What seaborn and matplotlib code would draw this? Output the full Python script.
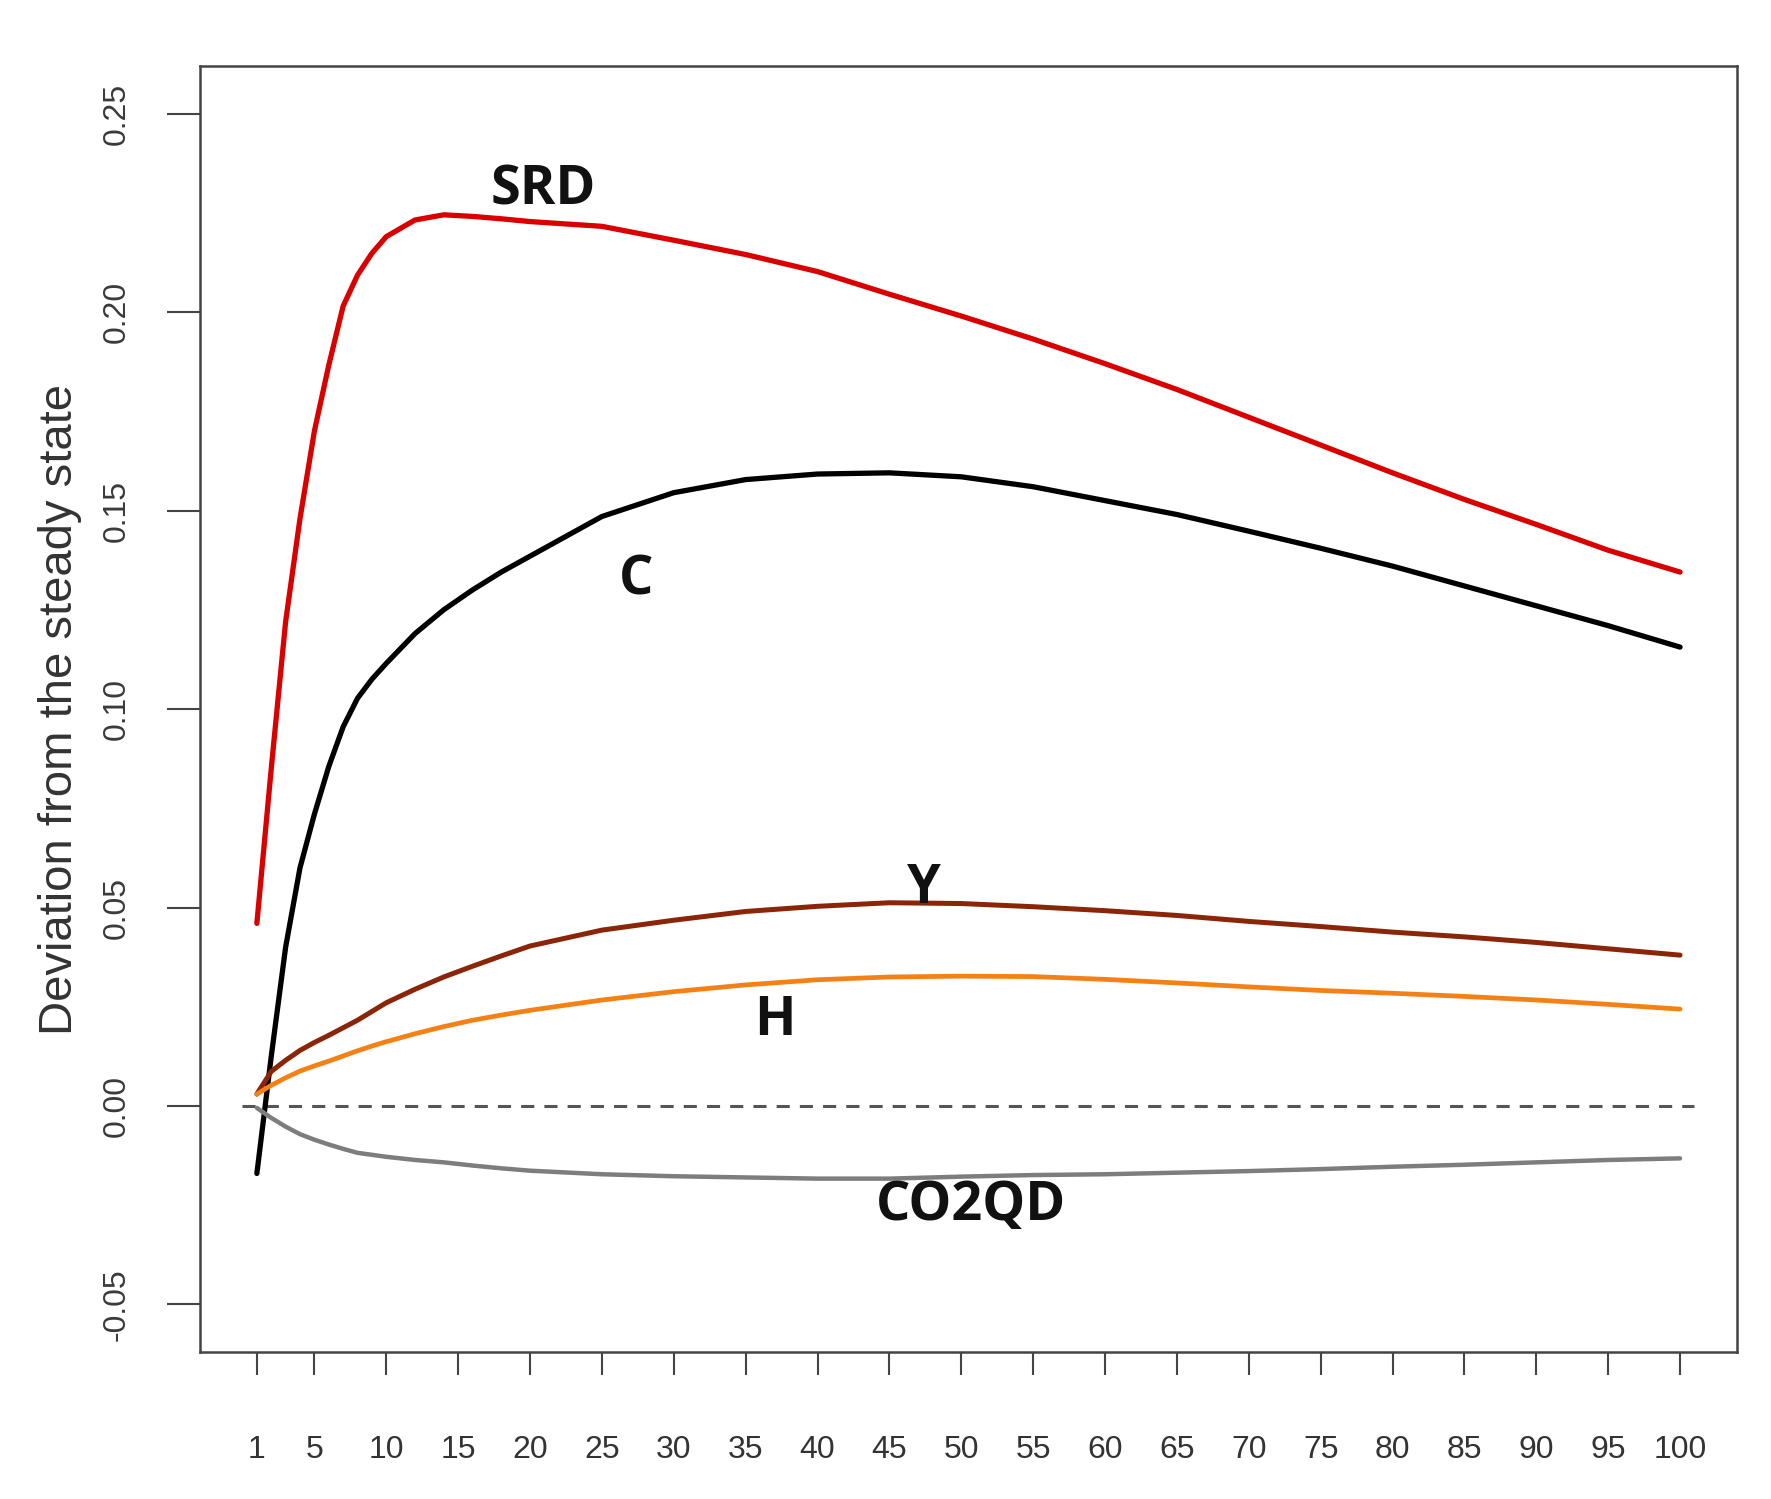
import pandas as pd
import seaborn as sns
import matplotlib.pyplot as plt
from matplotlib import font_manager
import numpy as np

# periods and impulse responses
periods = [1, 2, 3, 4, 5, 6, 7, 8, 9, 10, 12, 14, 16, 18, 20, 25, 30, 35, 40,
           45, 50, 55, 60, 65, 70, 75, 80, 85, 90, 95, 100]
srd = [0.046, 0.085, 0.122, 0.148, 0.170, 0.1866, 0.2015, 0.2093, 0.2148, 0.219,
       0.2232, 0.2245, 0.2241, 0.2235, 0.2228, 0.2216, 0.2181, 0.2145, 0.2102,
       0.2045, 0.199, 0.1932, 0.187, 0.1805, 0.1735, 0.1665, 0.1595, 0.1528,
       0.1465, 0.140, 0.1345]
cons = [-0.017, 0.0125, 0.040, 0.060, 0.0735, 0.0855, 0.0955, 0.1027, 0.1075, 0.1115,
        0.119, 0.125, 0.130, 0.1345, 0.1385, 0.1485, 0.1545, 0.1578, 0.1592,
        0.1595, 0.1585, 0.156, 0.1525, 0.149, 0.1448, 0.1405, 0.136, 0.131,
        0.126, 0.121, 0.1156]
output = [0.003, 0.0087, 0.0115, 0.0140, 0.0160, 0.0178, 0.0197, 0.0216, 0.0238, 0.0260,
          0.0294, 0.0325, 0.0352, 0.0378, 0.0403, 0.0443, 0.0468, 0.049, 0.0503,
          0.0512, 0.051, 0.0502, 0.0492, 0.048, 0.0465, 0.0452, 0.0438, 0.0426,
          0.0412, 0.0396, 0.038]
hours = [0.003, 0.0052, 0.0071, 0.0088, 0.0101, 0.0113, 0.0126, 0.0139, 0.0151, 0.0162,
         0.0182, 0.0200, 0.0216, 0.0229, 0.0241, 0.0267, 0.0288, 0.0305, 0.0318,
         0.0325, 0.0327, 0.0326, 0.0319, 0.031, 0.0300, 0.0291, 0.0284, 0.0276,
         0.0267, 0.0256, 0.0244]
co2qd = [-0.0005, -0.003, -0.0052, -0.0071, -0.0085, -0.0097, -0.0108, -0.0118, -0.0123,
         -0.0128, -0.0136, -0.0142, -0.0150, -0.0157, -0.0163, -0.0172, -0.0177,
         -0.018, -0.0183, -0.0183, -0.0178, -0.0174, -0.0172, -0.0168, -0.0164,
         -0.0159, -0.0153, -0.0148, -0.0142, -0.0136, -0.0132]

series_names = ["SRD", "C", "Y", "H", "CO2QD"]
label_x = [20.95, 27.4, 47.4, 37.0, 50.7]
label_y = [0.2306, 0.1324, 0.0547, 0.0214, -0.0251]

zero_x = [0, 101]
zero_y = [0, 0]

x_ticks = [1] + list(range(5, 101, 5))
y_ticks = [-0.05, 0.00, 0.05, 0.10, 0.15, 0.20, 0.25]

df = pd.DataFrame({
    "period": periods * 5,
    "value": srd + cons + output + hours + co2qd,
    "series": [n for n in series_names for _ in periods],
})

my_pal = {"SRD": "#d90000", "C": "#000000", "Y": "#8b2508",
          "H": "#f58013", "CO2QD": "#7d7d7d"}
my_lw = {"SRD": 3.8, "C": 3.8, "Y": 3.6, "H": 3.4, "CO2QD": 3.2}

sns.set_style("white")


def have_font(name):
    try:
        font_manager.findfont(font_manager.FontProperties(family=name),
                              fallback_to_default=False)
        return True
    except Exception:
        return False


narrow = "Liberation Sans Narrow" if have_font("Liberation Sans Narrow") else "Liberation Sans"
plt.rcParams["font.family"] = ["Liberation Sans", "DejaVu Sans"]

f, ax = plt.subplots(figsize=(17.71, 14.99), dpi=100)
f.subplots_adjust(left=0.1129, right=0.9808, top=0.956, bottom=0.098)

ax.plot(zero_x, zero_y, color="#555555", linewidth=2.2, linestyle=(0, (4.3, 3.3)))

for name in series_names:
    sns.lineplot(data=df[df["series"] == name], x="period", y="value",
                 color=my_pal[name], linewidth=my_lw[name], legend=False, ax=ax)

for name, tx, ty in zip(series_names, label_x, label_y):
    ax.text(tx, ty, name, ha="center", va="center", fontsize=39,
            fontweight="bold", family=["Open Sans", "DejaVu Sans"], color="#111111")

ax.set_xlim(-2.96, 103.96)
ax.set_ylim(-0.062, 0.262)
ax.set_xticks(x_ticks)
ax.set_xticklabels([str(t) for t in x_ticks], family=narrow, fontsize=23, color="#333333")
ax.set_yticks(y_ticks)
ax.set_yticklabels([f"{v:.2f}" for v in y_ticks], family=narrow, fontsize=23,
                   color="#3a3a3a", rotation=90, va="center")

ax.tick_params(axis="x", direction="out", length=16.5, width=1.5, color="#444444",
               pad=43, bottom=True)
ax.tick_params(axis="y", direction="out", length=24, width=1.5, color="#444444",
               pad=25, left=True)

ax.set_xlabel("")
ax.set_ylabel("Deviation from the steady state", fontsize=34, color="#333333")
ax.yaxis.set_label_coords(-0.077, 0.5)

for s in ax.spines.values():
    s.set_visible(True)
    s.set_color("#444444")
    s.set_linewidth(1.8)

f.savefig("out.png", dpi=100)
